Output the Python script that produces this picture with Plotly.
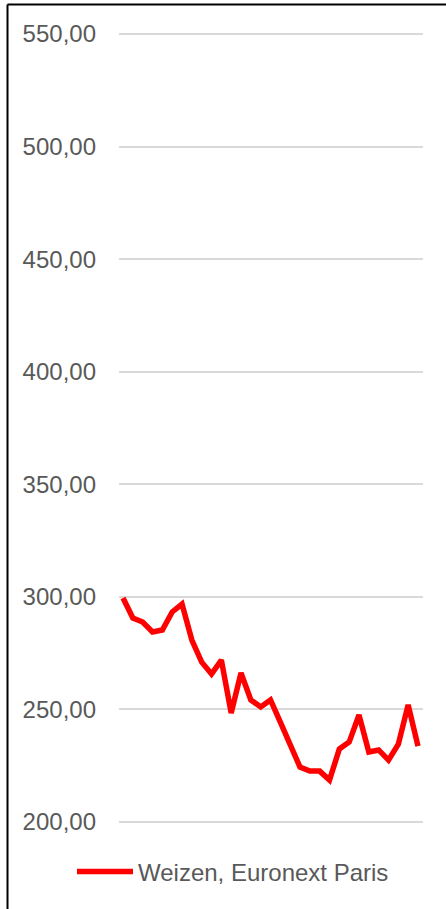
import plotly.graph_objects as go

series_name = "Weizen, Euronext Paris"
values = [299.5, 290.6, 288.8, 284.4, 285.3, 293.3, 296.8, 280.8, 271.0, 265.7,
          271.9, 248.4, 266.2, 254.2, 251.1, 254.2, 244.4, 234.2, 224.4, 222.6,
          222.6, 218.6, 232.4, 235.5, 247.5, 231.1, 232.0, 227.5, 234.6, 252.0,
          233.7]
x_idx = list(range(len(values)))
tick_vals = [200, 250, 300, 350, 400, 450, 500, 550]
tick_text = ["200,00", "250,00", "300,00", "350,00", "400,00", "450,00", "500,00", "550,00"]

fig = go.Figure()
fig.add_trace(go.Scatter(x=x_idx, y=values, mode="lines", name=series_name,
                         line=dict(color="#FF0000", width=5.5), showlegend=True))

W, H = 446, 909
# pixel geometry of the value axis: 550 at y=34, 200 at y=822
y550, y200 = 34.0, 822.0
ppu = (y200 - y550) / 350.0
l, r, t, b = 119, 23, 23, 76
pw = W - l - r
ph = H - t - b
plot_top, plot_bot = t, H - b
y_top_val = 550 + (y550 - plot_top) / ppu
y_bot_val = 200 - (plot_bot - y200) / ppu

def py(pix):
    return (plot_bot - pix) / ph

def px(pix):
    return (pix - l) / pw

fig.update_layout(
    width=W, height=H,
    margin=dict(l=l, r=r, t=t, b=b),
    paper_bgcolor="white", plot_bgcolor="white",
    font=dict(family="Liberation Sans, Arial, sans-serif", color="#595959", size=24),
    showlegend=True,
    legend=dict(orientation="h", x=px(233), xanchor="center",
                y=py(872), yanchor="middle",
                font=dict(size=24, color="#595959"), itemwidth=56,
                bgcolor="rgba(0,0,0,0)"),
    xaxis=dict(range=[-0.41, 30.51], showgrid=False, zeroline=False,
               showticklabels=False, ticks="", showline=False, fixedrange=True),
    yaxis=dict(range=[y_bot_val, y_top_val], tickvals=tick_vals, ticktext=tick_text,
               showgrid=True, gridcolor="#d9d9d9", gridwidth=2, zeroline=False,
               ticks="", showline=False, ticklabelstandoff=22,
               tickfont=dict(size=24, color="#595959"), fixedrange=True),
    shapes=[
        dict(type="line", xref="paper", yref="paper",
             x0=px(7.5), x1=px(7.5), y0=py(915), y1=py(4.5),
             line=dict(color="black", width=2)),
        dict(type="line", xref="paper", yref="paper",
             x0=px(7.5), x1=px(452), y0=py(4.5), y1=py(4.5),
             line=dict(color="black", width=2)),
    ],
)

fig.write_html("out.html", config={"displayModeBar": False},
               post_script="document.body.style.margin='0';document.body.style.overflow='hidden';")
